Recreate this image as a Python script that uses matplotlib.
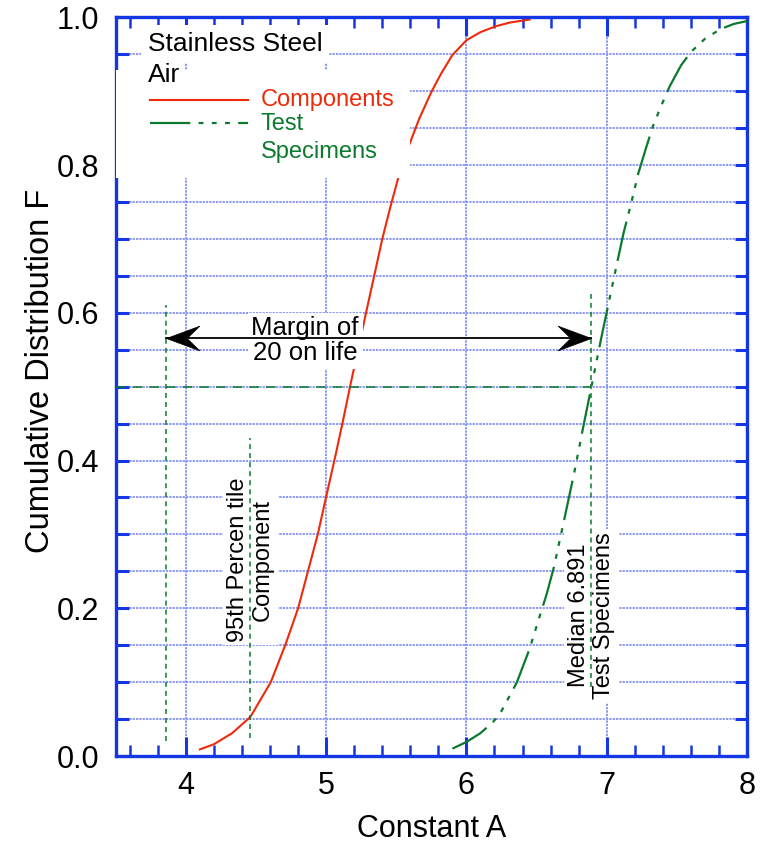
import matplotlib
matplotlib.use("Agg")
import matplotlib.pyplot as plt
from matplotlib.lines import Line2D
from matplotlib.patches import Rectangle
from matplotlib.path import Path
import numpy as np

plt.rcParams['font.family'] = ['Liberation Sans', 'DejaVu Sans']
plt.rcParams['lines.scale_dashes'] = False

# Cumulative distribution of constant A for components (red)
comp_A = [4.10, 4.20, 4.33, 4.46, 4.605, 4.71, 4.80, 4.87, 4.94, 5.00,
          5.07, 5.12, 5.17, 5.25, 5.29, 5.34, 5.40, 5.46, 5.517, 5.593,
          5.664, 5.75, 5.82, 5.90, 6.00, 6.10, 6.21, 6.31, 6.45]
comp_F = [0.009, 0.016, 0.031, 0.053, 0.100, 0.151, 0.200, 0.250, 0.300, 0.351,
          0.410, 0.454, 0.500, 0.570, 0.605, 0.648, 0.700, 0.745, 0.785, 0.828,
          0.863, 0.899, 0.924, 0.949, 0.969, 0.980, 0.988, 0.993, 0.997]

# Cumulative distribution of constant A for test specimens (green)
spec_A = [5.90, 6.00, 6.10, 6.19, 6.25, 6.36, 6.45, 6.52, 6.57, 6.62,
          6.68, 6.77, 6.83, 6.891, 6.96, 7.03, 7.07, 7.12, 7.17, 7.224,
          7.28, 7.33, 7.39, 7.45, 7.53, 7.60, 7.70, 7.81, 7.905, 8.00]
spec_F = [0.010, 0.019, 0.031, 0.046, 0.061, 0.100, 0.145, 0.188, 0.218, 0.253,
          0.305, 0.385, 0.443, 0.500, 0.565, 0.628, 0.664, 0.708, 0.745, 0.788,
          0.823, 0.853, 0.881, 0.907, 0.935, 0.953, 0.971, 0.984, 0.991, 0.995]

median_spec = 6.891      # median of test specimens
pct95_comp = 4.46        # 95th percentile of components
margin_low = 3.857       # lower end of the life margin
margin_F = 0.566         # level of the margin arrow

x_ticks = [4, 5, 6, 7, 8]
y_ticks = [0.0, 0.2, 0.4, 0.6, 0.8, 1.0]
y_tick_labels = ['0.0', '0.2', '0.4', '0.6', '0.8', '1.0']

BLUE = '#1436e4'
GRID = '#8a99f3'
RED = '#ee2a0a'
GREEN = '#0b7a2e'
spec_dash = (0, (29, 6, 3.5, 6, 3.5, 6, 3.5, 6))

fig = plt.figure(figsize=(7.61, 8.42), dpi=100)
ax = fig.add_axes([0.1521, 0.1021, 0.8295, 0.8773])
ax.set_xlim(3.5, 8.0)
ax.set_ylim(0.0, 1.0)

ax.set_xticks(x_ticks)
ax.set_xticks(np.arange(3.6, 8.0, 0.2), minor=True)
ax.set_yticks(y_ticks)
ax.set_yticklabels(y_tick_labels)
ax.set_yticks(np.arange(0.05, 1.0, 0.05), minor=True)

ax.grid(True, axis='x', which='major', color=GRID, lw=1.4, ls=(0, (1.6, 0.8)), zorder=1)
ax.grid(True, axis='y', which='both', color=GRID, lw=1.4, ls=(0, (1.6, 0.8)), zorder=1)

for s in ax.spines.values():
    s.set_color(BLUE)
    s.set_linewidth(2.4)
ax.tick_params(axis='both', which='both', direction='in', color=BLUE,
               top=True, right=True)
ax.tick_params(axis='x', which='major', length=14, width=2.2, pad=11, labelsize=22)
ax.tick_params(axis='x', which='minor', length=8, width=1.8)
ax.tick_params(axis='y', which='both', length=9, width=2.2)
ax.tick_params(axis='y', which='major', pad=12, labelsize=22)

ax.set_xlabel('Constant A', fontsize=22)
ax.xaxis.set_label_coords(0.5, -0.078)
ax.set_ylabel('Cumulative Distribution F', fontsize=23.5)
ax.yaxis.set_label_coords(-0.094, 0.522)

# distribution curves
ax.plot(comp_A, comp_F, color=RED, lw=1.5, zorder=2)
ax.plot(spec_A, spec_F, color=GREEN, lw=1.6, ls=spec_dash, zorder=5)

# reference lines
ax.plot([margin_low, margin_low], [0.02, 0.61], color=GREEN, lw=1.1,
        ls=(0, (3.6, 2.9)), zorder=6)
ax.plot([pct95_comp, pct95_comp], [0.024, 0.43], color=GREEN, lw=1.1,
        ls=(0, (3.6, 2.9)), zorder=6)
ax.plot([median_spec, median_spec], [0.093, 0.625], color=GREEN, lw=1.1,
        ls=(0, (3.6, 2.9)), zorder=6)
ax.plot([3.5, median_spec], [0.5, 0.5], color=GREEN, lw=1.1,
        ls=(0, (7, 5)), zorder=6)

# margin arrow with swept-back heads
head_left = Path([(0, 0), (1, 0.37), (0.62, 0), (1, -0.37), (0, 0)],
                 [Path.MOVETO, Path.LINETO, Path.LINETO, Path.LINETO, Path.CLOSEPOLY])
head_right = Path([(0, 0), (-1, 0.37), (-0.62, 0), (-1, -0.37), (0, 0)],
                  [Path.MOVETO, Path.LINETO, Path.LINETO, Path.LINETO, Path.CLOSEPOLY])
ax.plot([margin_low, median_spec], [margin_F, margin_F], color='black', lw=1.3, zorder=7)
ax.plot([margin_low], [margin_F], marker=head_left, ms=48, mfc='black',
        mec='black', mew=0.5, zorder=7)
ax.plot([median_spec], [margin_F], marker=head_right, ms=48, mfc='black',
        mec='black', mew=0.5, zorder=7)

box = dict(boxstyle='square,pad=0.15', fc='white', ec='none')
ax.text(4.85, margin_F - 0.004, 'Margin of\n20 on life', fontsize=18.5, ha='center',
        va='center', linespacing=1.05, bbox=box, zorder=4)
ax.text(pct95_comp, 0.266, '95th Percen tile\nComponent', fontsize=17,
        rotation=90, ha='center', va='center', multialignment='center',
        bbox=box, zorder=4)
ax.text(median_spec, 0.19, 'Median 6.891\nTest Specimens', fontsize=17,
        rotation=90, ha='center', va='center', multialignment='center',
        bbox=box, zorder=4)

# legend block
ax.add_patch(Rectangle((0.0, 0.7825), 0.466, 0.1462, transform=ax.transAxes,
                       fc='white', ec='none', zorder=3))
ax.text(0.0511, 0.9639, 'Stainless Steel', transform=ax.transAxes, fontsize=19,
        ha='left', va='center', bbox=dict(boxstyle='square,pad=0.25', fc='white',
                                          ec='none'), zorder=4)
ax.text(0.0511, 0.9219, 'Air', transform=ax.transAxes, fontsize=19,
        ha='left', va='center', zorder=4)
ax.add_line(Line2D([0.0543, 0.2096], [0.888, 0.888], transform=ax.transAxes,
                   color=RED, lw=1.5, zorder=4))
ax.add_line(Line2D([0.0543, 0.2096], [0.8569, 0.8569], transform=ax.transAxes,
                   color=GREEN, lw=1.6, ls=spec_dash, zorder=4))
ax.text(0.2301, 0.888, 'Components', transform=ax.transAxes, fontsize=17,
        color=RED, ha='left', va='center', zorder=4)
ax.text(0.2301, 0.8556, 'Test', transform=ax.transAxes, fontsize=17,
        color=GREEN, ha='left', va='center', zorder=4)
ax.text(0.2301, 0.8177, 'Specimens', transform=ax.transAxes, fontsize=17,
        color=GREEN, ha='left', va='center', zorder=4)

fig.savefig('out.png', dpi=100)
